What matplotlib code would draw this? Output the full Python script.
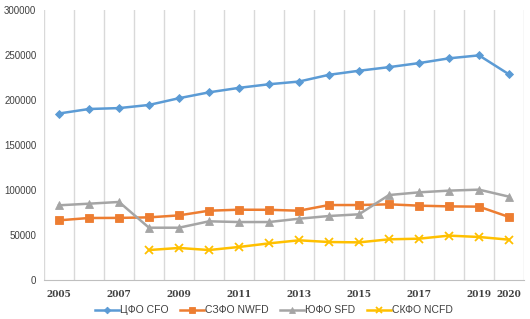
import matplotlib
matplotlib.use("Agg")
import matplotlib.pyplot as plt
import numpy as np
from matplotlib import font_manager

years = list(range(2005, 2021))
tick_years = [2005, 2007, 2009, 2011, 2013, 2015, 2017, 2019, 2020]

cfo = [185000, 190000, 191000, 194500, 202000, 208500, 213500, 217500, 220500,
       228000, 232500, 236500, 241000, 246300, 249600, 228500]
nwfd = [66300, 68900, 69000, 69600, 71800, 77000, 78100, 78000, 77000,
        83300, 83300, 84100, 82600, 81800, 81500, 70000]
sfd = [83000, 84800, 86700, 58100, 58100, 65200, 64400, 64400, 68100,
       71100, 73000, 94400, 97400, 99300, 100400, 92600]
ncfd = [np.nan, np.nan, np.nan, 33300, 35600, 33300, 36700, 40700, 44100,
        42200, 41800, 45200, 45900, 49300, 47800, 44800]

labels = ["ЦФО CFO", "СЗФО NWFD", "ЮФО SFD", "СКФО NCFD"]
colors = ["#5B9BD5", "#ED7D31", "#A5A5A5", "#FFC000"]
markers = ["D", "s", "^", "x"]
msizes = [4.5, 5.5, 5.5, 6]

names = {f.name for f in font_manager.fontManager.ttflist}
legfam = "Liberation Sans Narrow" if "Liberation Sans Narrow" in names else "Liberation Sans"

fig = plt.figure(figsize=(5.30, 3.19), dpi=100)
ax = fig.add_axes([44/530, 1-280/319, 480/530, 270/319])

x = np.arange(len(years))
for series, lab, c, m, ms in zip([cfo, nwfd, sfd, ncfd], labels, colors, markers, msizes):
    ax.plot(x, series, color=c, lw=1.8, marker=m, markersize=ms,
            markeredgewidth=1.3 if m == "x" else 0.6, markeredgecolor=c, label=lab)

ax.set_xlim(-0.5, len(years) - 0.5)
ax.set_ylim(0, 300000)
for b in np.arange(-0.5, len(years) + 0.5, 1):
    ax.axvline(b, color="#D9D9D9", lw=1, zorder=0)

ax.set_yticks(np.arange(0, 300001, 50000))
ax.set_yticklabels([str(v) for v in range(0, 300001, 50000)], fontsize=7, color="#404040",
                   family="Liberation Sans")
ax.set_xticks([years.index(y) for y in tick_years])
ax.set_xticklabels([str(y) for y in tick_years], fontsize=6.5, color="#404040",
                   fontweight="bold", family="DejaVu Serif")
ax.tick_params(length=0)
ax.tick_params(axis="x", pad=7)
ax.tick_params(axis="y", pad=5.5)

for s in ["top", "right", "left"]:
    ax.spines[s].set_visible(False)
ax.spines["bottom"].set_color("#BFBFBF")

leg = fig.legend(loc="center", bbox_to_anchor=(0.517, 0.027), ncol=4, frameon=False,
                 prop={"family": legfam, "size": 7.5}, handlelength=2.3,
                 columnspacing=1.1, handletextpad=0.1, labelcolor="#404040",
                 markerscale=0.75, borderpad=0)

fig.savefig("out.png", dpi=100)
